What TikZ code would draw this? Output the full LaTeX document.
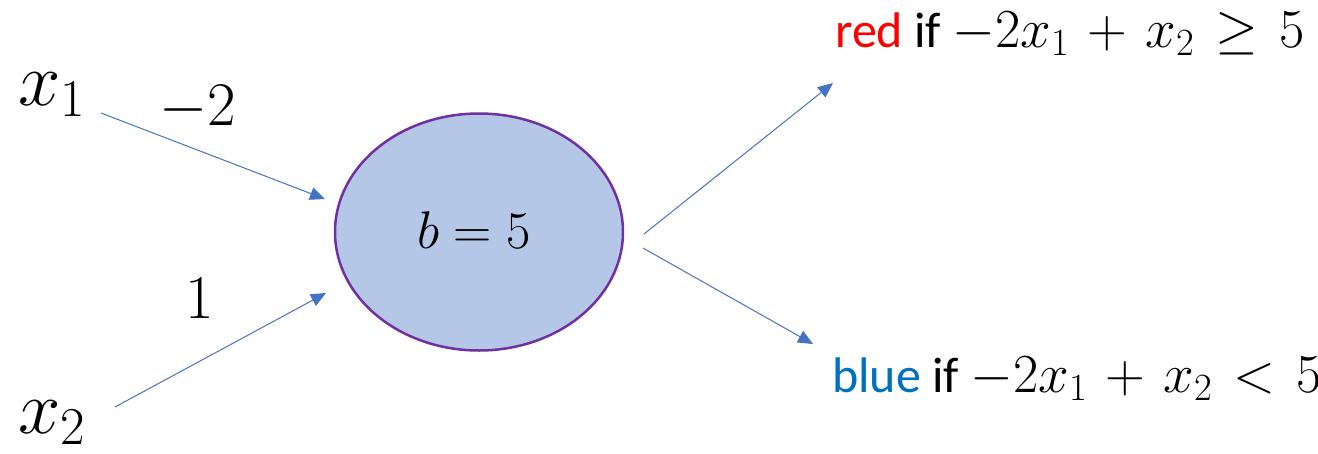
\RequirePackage{fix-cm}
\documentclass[tikz,border=0pt]{standalone}
\usepackage{fontspec}
\setmainfont{Carlito}
\usetikzlibrary{shapes.geometric,arrows.meta}
\definecolor{arrowblue}{HTML}{4472C4}
\definecolor{fillblue}{HTML}{B4C7E7}
\definecolor{purp}{HTML}{7030A0}
\definecolor{txtblue}{HTML}{0070C0}
\definecolor{txtred}{HTML}{FF0000}
\newcommand{\bigmath}[1]{{\fontsize{55}{62}\selectfont\medmuskip=6mu\thickmuskip=7mu$#1$}}
\begin{document}
\begin{tikzpicture}[x=1pt,y=-1pt,
  conn/.style={draw=arrowblue, line width=1pt, -{Triangle[length=15pt,width=13pt]}},
  lbl/.style={inner sep=0pt, anchor=base},
  varlbl/.style={inner sep=0pt, anchor=base west, font=\fontsize{76}{84}\selectfont},
  wlbl/.style={inner sep=0pt, anchor=base, font=\fontsize{62}{70}\selectfont},
  outlbl/.style={inner sep=0pt, anchor=base west, font=\fontsize{50}{60}\selectfont},
  neuronstyle/.style={ellipse, draw=purp, line width=2.5pt, fill=fillblue,
    minimum width=288pt, minimum height=237pt, inner sep=0pt}]
\useasboundingbox (0,0) rectangle (1318,453);
% neuron
\node[neuronstyle] (neuron) at (479,232) {};
\node[lbl, font=\fontsize{53}{60}\selectfont] (bias) at (474,248) {$b=5$};
% inputs
\node[varlbl] (x1) at (18,105) {$x_1$};
\node[varlbl] (x2) at (18,433) {$x_2$};
\node[wlbl] (w1) at (198,125) {$-2$};
\node[wlbl] (w2) at (200,318) {$1$};
% outputs
\node[outlbl] (outred) at (835,47) {\textcolor{txtred}{red} if \bigmath{-2x_1+x_2\geq 5}};
\node[outlbl] (outblue) at (832,392) {\textcolor{txtblue}{blue} if \bigmath{-2x_1+x_2<5}};
% connector ends
\coordinate (a1s) at (101,113);
\coordinate (a1e) at (325,199);
\coordinate (a2s) at (115,407);
\coordinate (a2e) at (326,293);
\coordinate (a3s) at (644,234);
\coordinate (a3e) at (833,83);
\coordinate (a4s) at (643,248);
\coordinate (a4e) at (813,344);
\draw[conn] (a1s) -- (a1e);
\draw[conn] (a2s) -- (a2e);
\draw[conn] (a3s) -- (a3e);
\draw[conn] (a4s) -- (a4e);
\end{tikzpicture}
\end{document}
